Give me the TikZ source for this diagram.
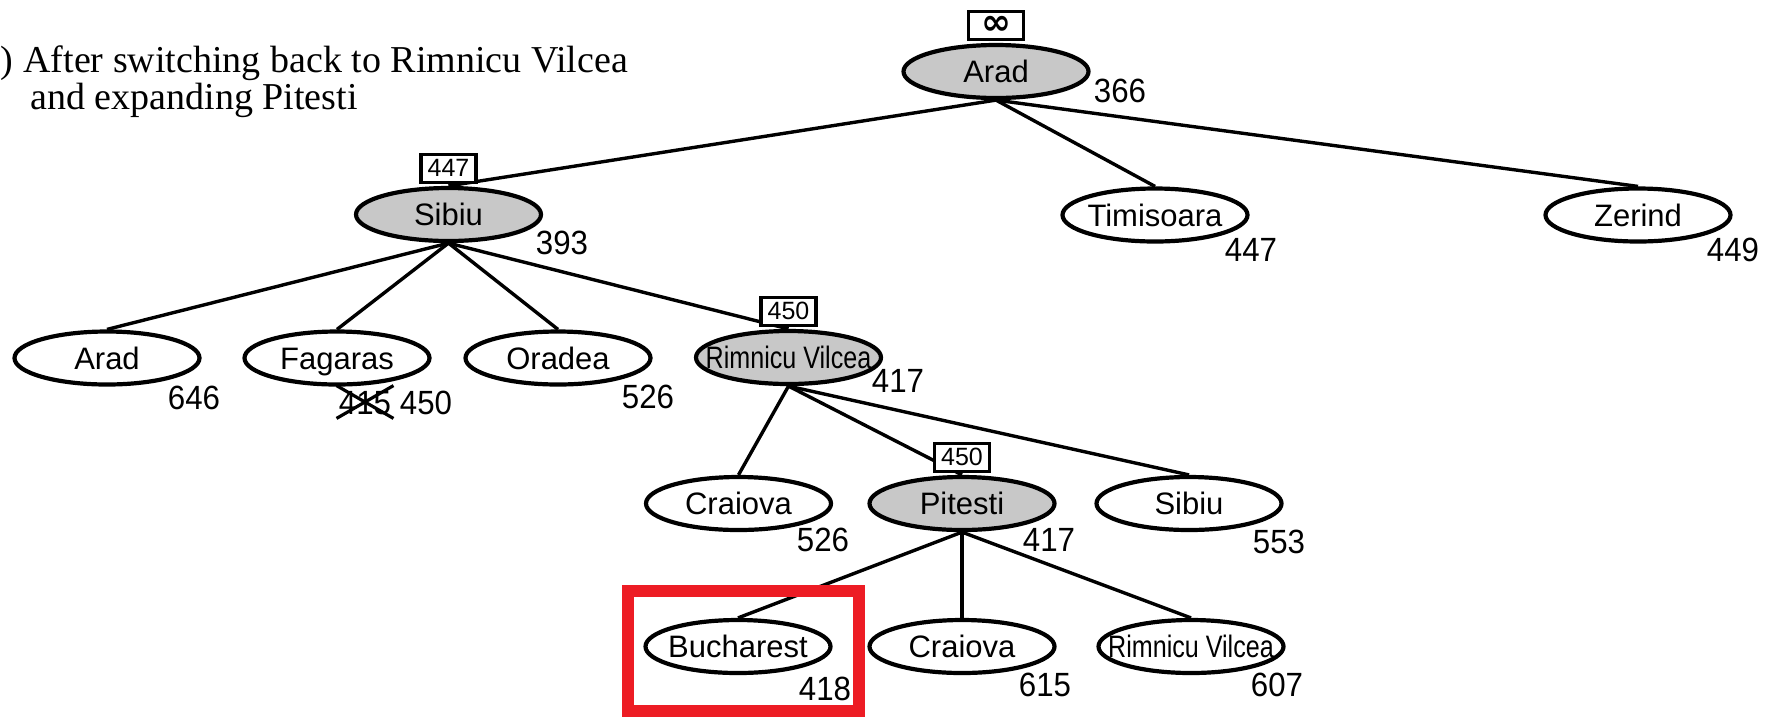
\documentclass[tikz,border=0pt]{standalone}
\usepackage{fontspec}
\setmainfont{Liberation Sans}
\newfontfamily\titlefont{Liberation Serif}
\newfontfamily\symbolfont{DejaVu Sans}
\usepackage{graphicx}
\usetikzlibrary{shapes.geometric}
\definecolor{expandedgray}{RGB}{200,200,200}
\definecolor{goalred}{RGB}{237,28,36}
\pgfdeclarelayer{background}
\pgfsetlayers{background,main}

% city names are kept out of the ellipse size computation
\newcommand{\cityname}[1]{\makebox[0pt]{#1}}
\newcommand{\longcity}[1]{\makebox[0pt]{\scalebox{0.81}[1]{#1}}}
% f-values are set in slightly narrowed digits
\newcommand{\fnum}[1]{\scalebox{0.93}[1]{#1}}

\begin{document}
\begin{tikzpicture}[x=0.5pt,y=-0.5pt,
  city/.style={ellipse, draw, line width=2.1pt, fill=white,
    minimum width=92.5pt, minimum height=26.5pt, inner sep=0pt,
    font=\fontsize{15.5}{18}\selectfont, text height=11.1pt, text depth=0pt},
  expandedcity/.style={city, fill=expandedgray},
  fvalue/.style={inner sep=0pt, font=\fontsize{16.8}{19}\selectfont,
    text height=12pt, text depth=0pt},
  limitbox/.style={draw, line width=1.6pt, fill=white, anchor=south,
    minimum width=27.5pt, minimum height=14pt, inner sep=0pt,
    font=\fontsize{12.5}{14}\selectfont},
  infbox/.style={limitbox, font=\symbolfont\bfseries\fontsize{18}{20}\selectfont},
  link/.style={line width=1.7pt},
  strike/.style={line width=1.6pt},
  titletext/.style={inner sep=0pt, font=\titlefont\fontsize{19}{22}\selectfont},
  goalbox/.style={draw=goalred, line width=6pt}
]
\useasboundingbox (0,0) rectangle (1775,719);

% caption
\node[titletext, anchor=base east] (paren) at (14,72) {)};
\node[titletext, anchor=base west] (title1) at (23,72) {After switching back to Rimnicu Vilcea};
\node[titletext, anchor=base west] (title2) at (30,109) {and expanding Pitesti};

% level 0
\node[expandedcity] (arad0) at (996,71.5) {\cityname{Arad}};
% level 1
\node[expandedcity] (sibiu1) at (448.5,214.5) {\cityname{Sibiu}};
\node[city] (timisoara1) at (1155,215) {\cityname{Timisoara}};
\node[city] (zerind1) at (1638,215) {\cityname{Zerind}};
% level 2
\node[city] (arad2) at (107,358) {\cityname{Arad}};
\node[city] (fagaras2) at (337,358) {\cityname{Fagaras}};
\node[city] (oradea2) at (558,358) {\cityname{Oradea}};
\node[expandedcity] (rimnicu2) at (788.5,357.5) {\longcity{Rimnicu Vilcea}};
% level 3
\node[city] (craiova3) at (738.5,503.5) {\cityname{Craiova}};
\node[expandedcity] (pitesti3) at (962,503.5) {\cityname{Pitesti}};
\node[city] (sibiu3) at (1189,503.5) {\cityname{Sibiu}};
% level 4
\node[city] (bucharest4) at (738,646.5) {\cityname{Bucharest}};
\node[city] (craiova4) at (962,646.5) {\cityname{Craiova}};
\node[city] (rimnicu4) at (1191,646.5) {\longcity{Rimnicu Vilcea}};

% tree edges, behind the ellipses and the limit boxes
\begin{pgfonlayer}{background}
  \foreach \c in {sibiu1,timisoara1,zerind1}
    \draw[link] (arad0.south) -- (\c.north);
  \foreach \c in {arad2,fagaras2,oradea2,rimnicu2}
    \draw[link] (sibiu1.south) -- (\c.north);
  \foreach \c in {craiova3,pitesti3,sibiu3}
    \draw[link] (rimnicu2.south) -- (\c.north);
  \foreach \c in {bucharest4,craiova4,rimnicu4}
    \draw[link] (pitesti3.south) -- (\c.north);
\end{pgfonlayer}

% f-limits of the nodes on the current path
\node[infbox] (limit0) at ([yshift=1pt]arad0.north) {∞};
\node[limitbox] (limit1) at ([yshift=1pt]sibiu1.north) {447};
\node[limitbox] (limit2) at ([yshift=1pt]rimnicu2.north) {450};
\node[limitbox] (limit3) at ([yshift=1pt]pitesti3.north) {450};

% f-values
\node[fvalue] (f0) at (1120,90) {\fnum{366}};
\node[fvalue] (f1a) at (562,242) {\fnum{393}};
\node[fvalue] (f1b) at (1251,249) {\fnum{447}};
\node[fvalue] (f1c) at (1733,249) {\fnum{449}};
\node[fvalue] (f2a) at (194,397) {\fnum{646}};
\node[fvalue] (f2old) at (365,402) {\fnum{415}};
\node[fvalue] (f2b) at (426,402) {\fnum{450}};
\node[fvalue] (f2c) at (648,396) {\fnum{526}};
\node[fvalue] (f2d) at (898,380) {\fnum{417}};
\node[fvalue] (f3a) at (823,539) {\fnum{526}};
\node[fvalue] (f3b) at (1049,539) {\fnum{417}};
\node[fvalue] (f3c) at (1279,541) {\fnum{553}};
\node[fvalue] (f4a) at (825,688) {\fnum{418}};
\node[fvalue] (f4b) at (1045,684) {\fnum{615}};
\node[fvalue] (f4c) at (1277,684) {\fnum{607}};

% the superseded value of Fagaras is crossed out
\draw[strike] ([xshift=-1pt,yshift=2pt]f2old.north west) -- ([xshift=1pt,yshift=-2pt]f2old.south east);
\draw[strike] ([xshift=-1pt,yshift=-2pt]f2old.south west) -- ([xshift=1pt,yshift=2pt]f2old.north east);

% goal highlight
\draw[goalbox] (627.5,590.5) rectangle (859,711);
\end{tikzpicture}
\end{document}
